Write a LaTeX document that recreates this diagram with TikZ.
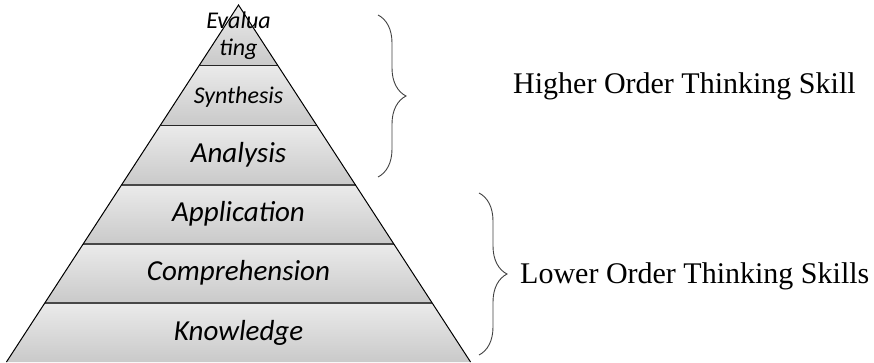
\documentclass[tikz,border=0pt]{standalone}
\usepackage{fontspec}
\setmainfont{Liberation Serif}
\newfontfamily\tierfont{Carlito}
\usetikzlibrary{decorations.pathreplacing}
\tikzset{%
	layer/.style = { top color=black!8, bottom color=black!21 },
	side/.style = { draw=black, line width=1pt, line join=miter },
	thinrung/.style = { draw=black!85, line width=1pt },
	rung/.style = { draw=black!72, line width=1.8pt },
	tier/.style = { font=\tierfont\itshape\fontsize{29}{30}\selectfont, inner sep=0pt, anchor=base },
	smalltier/.style = { tier, font=\tierfont\itshape\fontsize{24}{27}\selectfont, align=center },
	brace/.style = { draw=black!75, line width=0.9pt, decorate, decoration={brace, amplitude=28pt} },
	note/.style = { font=\fontsize{30}{32}\selectfont, inner sep=0pt, anchor=base west }
}
\begin{document}
\begin{tikzpicture}[x=1pt, y=-1pt]
	\useasboundingbox (0,0) rectangle (874,362);
	% pyramid: apex at (238.5,5), half width grows 0.65 per unit down
	\foreach \ta/\tb in {5/65, 65/125, 125/185, 185/244, 244/303, 303/362}{
		\path[layer] ({238.5-0.65*(\ta-5)},\ta) -- ({238.5+0.65*(\ta-5)},\ta)
			-- ({238.5+0.65*(\tb-5)},\tb) -- ({238.5-0.65*(\tb-5)},\tb) -- cycle;
	}
	% separating lines
	\foreach \y in {65,125}
		\draw[thinrung] ({238.5-0.65*(\y-5)},\y) -- ({238.5+0.65*(\y-5)},\y);
	\foreach \y in {185,244,303}
		\draw[rung] ({238.5-0.65*(\y-5)},\y) -- ({238.5+0.65*(\y-5)},\y);
	% outline
	\coordinate (apex) at (238.5,5);
	\coordinate (baseL) at (6.45,362);
	\coordinate (baseR) at (470.55,362);
	\draw[side] (baseL) -- (apex) -- (baseR);
	% tier labels (base of a two-line node is its last line)
	\node[smalltier] (evaluating) at (238.5,55) {Evalua\\ting};
	\node[smalltier] (synthesis) at (238.5,103) {Synthesis};
	\node[tier] (analysis) at (238.5,162) {Analysis};
	\node[tier] (application) at (238.5,221.5) {Application};
	\node[tier] (comprehension) at (238.5,280) {Comprehension};
	\node[tier] (knowledge) at (238.5,340) {Knowledge};
	% braces and their captions
	\coordinate (hotsTop) at (378,15);
	\coordinate (hotsBot) at (378,177);
	\coordinate (lotsTop) at (479,193);
	\coordinate (lotsBot) at (479,355);
	\draw[brace] (hotsTop) -- (hotsBot);
	\draw[brace] (lotsTop) -- (lotsBot);
	\node[note] (hots) at (513,93) {Higher Order Thinking Skill};
	\node[note] (lots) at (520,283) {Lower Order Thinking Skills};
\end{tikzpicture}
\end{document}
